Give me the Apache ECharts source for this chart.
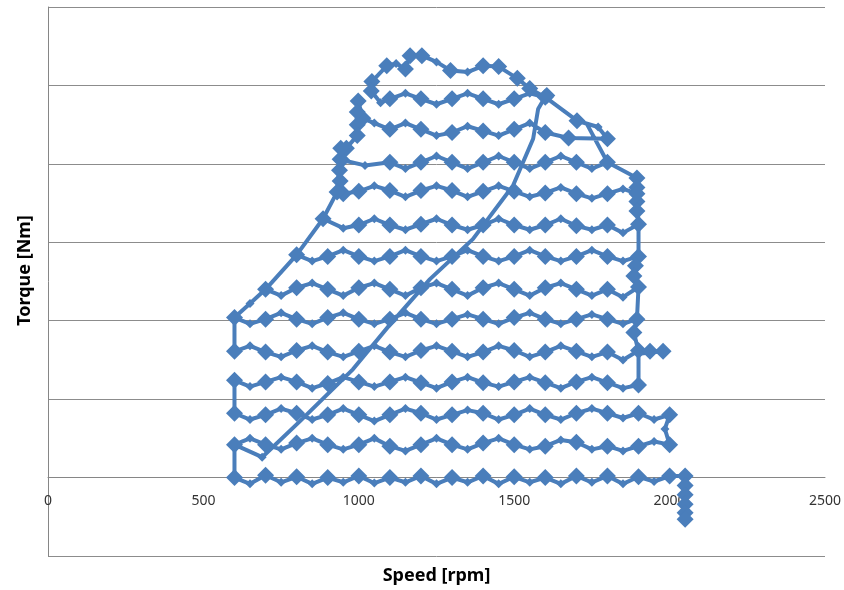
<!DOCTYPE html>
<html><head><meta charset="utf-8">
<script src="https://cdn.jsdelivr.net/npm/echarts@6/dist/echarts.min.js"></script>
<style>html,body{margin:0;padding:0;background:#fff}#c{width:844px;height:590px}</style>
</head><body><div id="c"></div>
<script>
// Each point: [speed rpm, torque, kind]  kind 1 = settled operating point, 0 = transient sample, 2 = ramp/return sample
const xTicks = [0, 500, 1000, 1500, 2000, 2500];
const diagonalRamp = [[600,42,2],[689,26,0],[811,72,2],[981,138,2],[1100,195,2],[1229,253,2],[1367,304,2],[1496,372,2],[1561,432,2],[1577,470,2],[1599,485,2]];
const row13 = [[1605,487,1],[1550,496,1],[1510,509,1],[1450,524,1],[1400,525,1],[1350,517,0],[1295,519,1],[1250,530,0],[1203,538,1],[1165,538,1],[1150,521,1],[1120,528,0],[1090,525,1]];
const left13to12 = [[1042,505,1]];
const row12 = [[1040,493,1],[1070,478,0],[1100,483,1],[1150,490,0],[1200,483,1],[1250,476,0],[1300,483,1],[1350,490,0],[1400,483,1],[1450,476,0],[1500,483,1],[1550,490,0],[1600,485,1]];
const right12to11 = [[1702,455,1],[1770,447,0],[1800,432,1],[1675,433,1],[1600,440,1]];
const row11 = [[1100,444,1],[1150,452,0],[1200,444,1],[1250,436,0],[1300,440,1],[1350,448,0],[1400,442,1],[1450,436,0],[1500,444,1],[1550,452,0]];
const left11to10 = [[1050,452,0],[1013,458,1],[998,480,1],[995,466,1],[995,450,1],[995,436,1],[960,420,1],[945,405,1]];
const row10 = [[1020,398,0],[1100,402,1],[1150,394,0],[1200,402,1],[1250,410,0],[1300,402,1],[1350,394,0],[1400,402,1],[1450,410,0],[1500,402,1],[1550,394,0],[1600,402,1],[1650,410,0],[1700,402,1],[1750,394,0],[1800,402,1]];
const right10to9 = [[1735,450,2],[1800,402,2],[1895,382,1],[1895,370,1],[1895,352,1],[1895,340,1],[1900,323,2],[1895,362,1]];
const row9 = [[1000,365,1],[1050,372,0],[1100,366,1],[1150,358,0],[1200,366,1],[1250,372,0],[1300,366,1],[1350,358,0],[1400,365,1],[1450,372,0],[1500,365,1],[1550,358,0],[1600,363,1],[1650,370,0],[1700,362,1],[1750,356,0],[1800,362,1],[1850,368,0]];
const left9to8 = [[950,362,1],[940,378,1],[938,392,1],[940,406,1],[942,420,1],[935,385,2],[930,364,1],[885,330,1],[800,284,2],[885,330,2]];
const row8 = [[950,318,0],[1000,322,1],[1050,330,0],[1100,322,1],[1150,316,0],[1200,323,1],[1250,330,0],[1300,322,1],[1350,316,0],[1400,322,1],[1450,330,0],[1500,322,1],[1550,316,0],[1600,322,1],[1650,330,0],[1700,321,1],[1750,316,0],[1800,322,1],[1850,312,0],[1900,323,1]];
const right8to7 = [[1900,282,1],[1890,270,1],[1885,257,1],[1900,243,2],[1890,265,2],[1900,282,2]];
const row7 = [[800,284,1],[850,276,0],[900,282,1],[950,290,0],[1000,282,1],[1050,276,0],[1100,282,1],[1150,290,0],[1200,282,1],[1250,276,0],[1300,282,1],[1350,290,0],[1400,282,1],[1450,276,0],[1500,282,1],[1550,290,0],[1600,282,1],[1650,276,0],[1700,282,1],[1750,290,0],[1800,282,1],[1850,276,0]];
const left7to6 = [[700,240,1],[650,222,0],[600,204,2],[650,222,2],[700,240,2]];
const row6 = [[750,232,0],[800,242,1],[850,248,0],[900,240,1],[950,232,0],[1000,242,1],[1050,248,0],[1100,240,1],[1150,232,0],[1200,242,1],[1250,248,0],[1300,240,1],[1350,232,0],[1400,242,1],[1450,248,0],[1500,240,1],[1550,232,0],[1600,242,1],[1650,248,0],[1700,240,1],[1750,232,0],[1800,240,1],[1850,230,0],[1900,243,1]];
const right6to5 = [[1895,202,1],[1885,185,1],[1900,161,2],[1885,185,2],[1895,202,2]];
const row5 = [[600,204,1],[650,196,0],[700,202,1],[750,210,0],[800,202,1],[850,196,0],[900,204,1],[950,210,0],[1000,202,1],[1050,196,0],[1100,202,1],[1150,210,0],[1200,202,1],[1250,196,0],[1300,202,1],[1350,208,0],[1400,202,1],[1450,196,0],[1500,204,1],[1550,210,0],[1600,202,1],[1650,196,0],[1700,202,1],[1750,208,0],[1800,202,1],[1850,196,0]];
const row4 = [[600,161,1],[650,168,0],[700,160,1],[750,154,0],[800,162,1],[850,168,0],[900,160,1],[950,154,0],[1000,161,1],[1050,168,0],[1100,160,1],[1150,154,0],[1200,162,1],[1250,168,0],[1300,161,1],[1350,154,0],[1400,160,1],[1450,168,0],[1500,162,1],[1550,154,0],[1600,160,1],[1650,168,0],[1700,161,1],[1750,154,0],[1800,160,1],[1850,150,0],[1900,162,1],[1937,161,1],[1979,161,1]];
const right4to3 = [[1900,158,2]];
const row3 = [[600,124,1],[650,116,0],[700,122,1],[750,128,0],[800,122,1],[850,114,0],[900,120,1],[950,128,0],[1000,122,1],[1050,116,0],[1100,122,1],[1150,128,0],[1200,121,1],[1250,114,0],[1300,122,1],[1350,128,0],[1400,121,1],[1450,116,0],[1500,122,1],[1550,128,0],[1600,121,1],[1650,114,0],[1700,122,1],[1750,128,0],[1800,121,1],[1850,114,0],[1900,118,1]];
const row2 = [[600,82,1],[650,74,0],[700,80,1],[750,88,0],[800,82,1],[850,74,0],[900,80,1],[950,88,0],[1000,80,1],[1050,72,0],[1100,80,1],[1150,88,0],[1200,82,1],[1250,74,0],[1300,80,1],[1350,86,0],[1400,82,1],[1450,74,0],[1500,80,1],[1550,88,0],[1600,80,1],[1650,74,0],[1700,82,1],[1750,88,0],[1800,82,1],[1850,76,0],[1900,82,1],[1950,74,0],[2000,80,1]];
const right2to1 = [[1985,62,0]];
const row1 = [[600,42,1],[650,50,0],[700,42,1],[750,36,0],[800,44,1],[850,50,0],[900,42,1],[950,36,0],[1000,42,1],[1050,50,0],[1100,40,1],[1150,34,0],[1200,42,1],[1250,50,0],[1300,42,1],[1350,36,0],[1400,44,1],[1450,50,0],[1500,42,1],[1550,36,0],[1600,40,1],[1650,48,0],[1700,45,1],[1750,36,0],[1800,40,1],[1850,34,0],[1900,40,1],[1950,46,0],[2000,42,1]];
const row0 = [[600,0,1],[650,-8,0],[700,3,1],[750,-6,0],[800,1,1],[850,-8,0],[900,0,1],[950,-6,0],[1000,2,1],[1050,-7,0],[1100,0,1],[1150,-6,0],[1200,2,1],[1250,-8,0],[1300,0,1],[1350,-6,0],[1400,2,1],[1450,-8,0],[1500,1,1],[1550,-6,0],[1600,0,1],[1650,-8,0],[1700,2,1],[1750,-6,0],[1800,2,1],[1850,-8,0],[1900,1,1],[1950,-5,0],[2000,2,1]];
const endStack = [[2050,2,1],[2050,-10,1],[2050,-22,1],[2050,-34,1],[2050,-45,1],[2050,-53,1]];

const rev = a => a.slice().reverse();
const path = [].concat(
  diagonalRamp, row13, left13to12, row12, right12to11, rev(row11), left11to10, row10,
  right10to9, rev(row9), left9to8, row8, right8to7, rev(row7), left7to6, row6,
  right6to5, rev(row5), row4, right4to3, rev(row3), row2, right2to1, rev(row1), row0, endStack
);

const yMin = -100, yMax = 600;
const gridTop = 7, gridBottom = 34, chartH = 590;
// distance from the bottom of the plot to the zero-torque line, so the speed axis sits at torque 0
const zeroOffset = (chartH - gridTop - gridBottom) * (0 - yMin) / (yMax - yMin);

const blue = '#4a7ebb';
const chart = echarts.init(document.getElementById('c'), null, {renderer: 'canvas'});
chart.setOption({
  animation: false,
  backgroundColor: '#ffffff',
  grid: {left: 48, right: 19, top: gridTop, bottom: gridBottom, containLabel: false, outerBoundsMode: 'none'},
  xAxis: {
    type: 'value', min: xTicks[0], max: xTicks[xTicks.length - 1], interval: 500,
    position: 'bottom', offset: -zeroOffset,
    name: 'Speed [rpm]', nameLocation: 'middle', nameGap: 89,
    nameTextStyle: {fontFamily: 'Noto Sans', fontWeight: 'bold', fontSize: 18, color: '#000'},
    axisLine: {show: true, onZero: false, lineStyle: {color: '#868686', width: 1}},
    axisTick: {show: false},
    axisLabel: {fontFamily: 'Noto Sans', fontSize: 14, color: '#333333', margin: 16, formatter: v => String(v)},
    splitLine: {show: false}
  },
  yAxis: {
    type: 'value', min: yMin, max: yMax, interval: 100,
    name: 'Torque [Nm]', nameLocation: 'middle', nameGap: 14,
    nameTextStyle: {fontFamily: 'Noto Sans', fontWeight: 'bold', fontSize: 18, color: '#000', padding: [0, 0, 0, 22]},
    axisLine: {show: true, onZero: false, lineStyle: {color: '#868686', width: 1}},
    axisTick: {show: false},
    axisLabel: {show: false},
    splitLine: {show: true, lineStyle: {color: '#8c8c8c', width: 1}}
  },
  series: [{
    type: 'line',
    data: path,
    encode: {x: 0, y: 1},
    lineStyle: {color: blue, width: 4},
    itemStyle: {color: blue, borderWidth: 0},
    symbol: 'diamond',
    symbolSize: v => v[2] === 1 ? 17 : (v[2] === 0 ? 9 : 0),
    showAllSymbol: true,
    smooth: false
  }]
});
</script>
</body></html>
